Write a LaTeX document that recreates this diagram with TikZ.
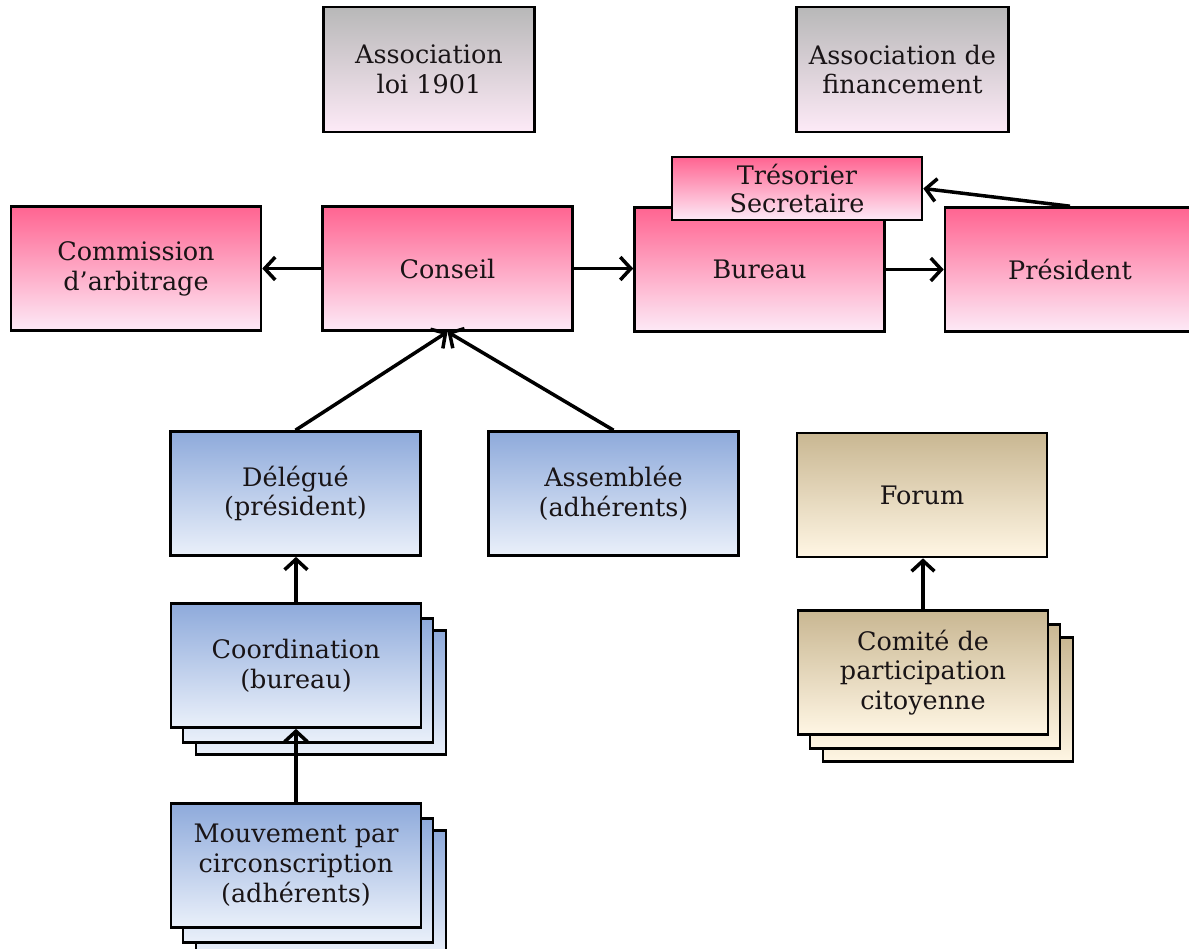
\documentclass[tikz,border=0pt]{standalone}
\usepackage{fontspec}
\setmainfont{DejaVu Serif}
\usetikzlibrary{arrows.meta}
\definecolor{pinktop}{RGB}{255,100,145}
\definecolor{pinkbot}{RGB}{253,234,247}
\definecolor{graytop}{RGB}{184,184,184}
\definecolor{bluetop}{RGB}{142,170,219}
\definecolor{bluebot}{RGB}{234,240,250}
\definecolor{tantop}{RGB}{201,183,146}
\definecolor{tanbot}{RGB}{255,246,228}
\definecolor{txt}{RGB}{25,20,22}
\begin{document}
\begin{tikzpicture}[x=0.02cm,y=-0.02cm,
  box/.style={draw=black,line width=1.5pt,align=center,inner sep=0pt,
    font=\fontsize{14.5}{17}\selectfont,text=txt,minimum width=5cm,minimum height=2.48cm},
  pinkbox/.style={box,top color=pinktop,bottom color=pinkbot},
  graybox/.style={box,top color=graytop,bottom color=pinkbot,minimum width=4.23cm,minimum height=2.5cm},
  bluebox/.style={box,top color=bluetop,bottom color=bluebot},
  tanbox/.style={box,top color=tantop,bottom color=tanbot},
  arr/.style={line width=2pt,-{Straight Barb[length=6pt,width=13pt,line width=2pt]}}
]
\useasboundingbox (0,0) rectangle (1189,948);
\fill[white] (0,0) rectangle (1189,948);
\clip (0,0) rectangle (1189,948);

% top grey boxes
\node[graybox] (assoc1) at (429,69.5) {Association\\loi 1901};
\node[graybox] (assoc2) at (902.5,69.5) {Association de\\financement};

% pink row
\node[pinkbox] (comm) at (136,268.5) {Commission\\d’arbitrage};
\node[pinkbox] (conseil) at (447.5,268.5) {Conseil};
\node[pinkbox] (bureau) at (759.5,269.5) {Bureau};
\node[pinkbox] (pres) at (1070,269.5) {Président};
\node[pinkbox,minimum height=1.26cm,font=\fontsize{14.5}{16}\selectfont] (tres) at (797,188.5) {Trésorier\\Secretaire};

% blue row
\node[bluebox] (deleg) at (295.5,493.5) {Délégué\\(président)};
\node[bluebox] (assemb) at (613.5,493.5) {Assemblée\\(adhérents)};

% coordination stack
\node[bluebox] (coord3) at (321,692.5) {};
\node[bluebox] (coord2) at (308,680.5) {};
\node[bluebox] (coord) at (296,665.5) {Coordination\\(bureau)};

% mouvement stack
\node[bluebox] (mouv3) at (321,892.5) {};
\node[bluebox] (mouv2) at (308,880.5) {};
\node[bluebox] (mouv) at (296,865.5) {Mouvement par\\circonscription\\(adhérents)};

% forum
\node[tanbox] (forum) at (922,495) {Forum};
\node[tanbox] (comite3) at (948,699.5) {};
\node[tanbox] (comite2) at (935,686.5) {};
\node[tanbox] (comite) at (923,672.5) {Comité de\\participation\\citoyenne};

% connectors
\draw[arr] (conseil.west) -- (comm.east);
\draw[arr] (conseil.east) -- (conseil.east -| bureau.west);
\draw[arr] (bureau.east) -- (bureau.east -| pres.west);
\draw[arr] (pres.north) -- (tres.east);
\draw[arr] (deleg.north) -- (conseil.south);
\draw[arr] (assemb.north) -- (conseil.south);
\draw[arr] (coord.north) -- (coord.north |- deleg.south);
\draw[arr] (mouv.north) -- (coord.south);
\draw[arr] (comite.north) -- (comite.north |- forum.south);
\end{tikzpicture}
\end{document}
